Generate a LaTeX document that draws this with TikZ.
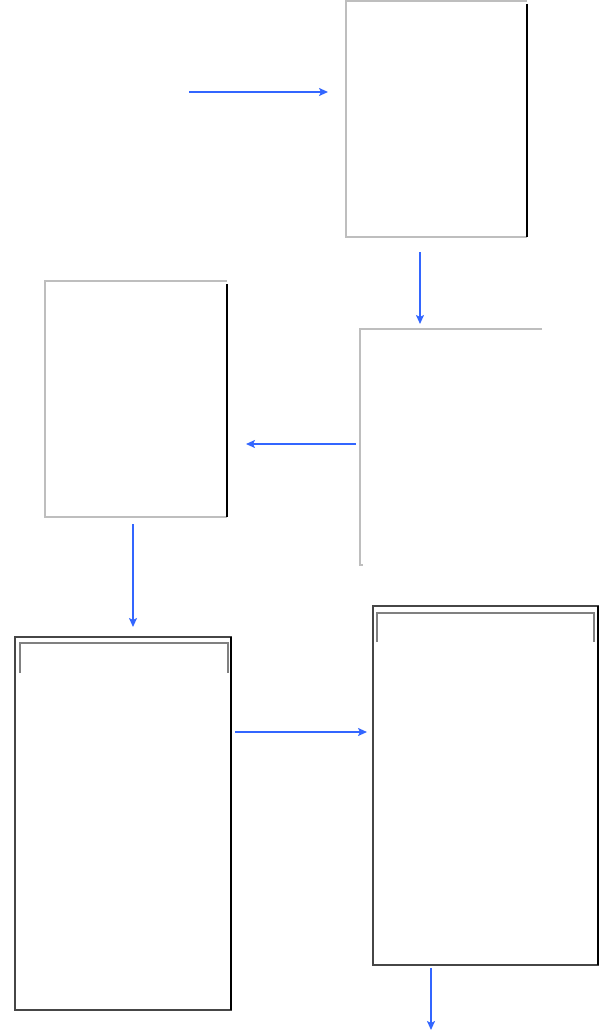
\documentclass[tikz,border=0pt]{standalone}
\usepackage{xcolor}
\usepackage{tikz}
\usetikzlibrary{arrows.meta}
\definecolor{flowblue}{RGB}{51,102,255}
\definecolor{edgegray}{RGB}{190,190,190}
\definecolor{framegray}{RGB}{70,70,70}

\begin{document}
\begin{tikzpicture}[x=1pt,y=-1pt,
  shot/.style={rectangle, minimum width=#1, inner sep=0pt, outer sep=0pt},
  light/.style={draw=edgegray, line width=1.3pt},
  dark/.style={draw=framegray, line width=1.3pt},
  rim/.style={draw=black, line width=1.6pt},
  bar/.style={draw=gray, line width=1.2pt},
  flow/.style={draw=flowblue, line width=2pt, -{Stealth[length=9pt,width=8pt,inset=2pt]}}]
\useasboundingbox (0,0) rectangle (615,1035);
\node[shot=181pt, minimum height=236pt] (A) at (436.5,119) {};
\node[shot=182pt, minimum height=236pt] (B) at (451,447) {};
\node[shot=182pt, minimum height=236pt] (C) at (136,399) {};
\node[shot=216pt, minimum height=373pt] (D) at (123,823.5) {};
\node[shot=225pt, minimum height=359pt] (E) at (485.5,785.5) {};
\coordinate (src) at (189,92);
\coordinate (out) at (431,1030);
% window borders
\draw[light] (A.south east) -- (A.south west) -- (A.north west) -- (A.north east);
\draw[rim] ([shift={(0,3)}]A.north east) -- (A.south east);
\draw[light] (B.north east) -- (B.north west) -- (B.south west) -- ++(3,0);
\draw[light] (C.south east) -- (C.south west) -- (C.north west) -- (C.north east);
\draw[rim] ([shift={(0,3)}]C.north east) -- (C.south east);
\draw[dark] (D.north west) rectangle (D.south east);
\draw[rim] (D.north east) -- (D.south east);
\draw[dark] (E.north west) rectangle (E.south east);
\draw[rim] (E.north east) -- (E.south east);
% title bars
\draw[bar] ([shift={(5,36)}]D.north west) |- ([shift={(-3,6)}]D.north east) -- ([shift={(-3,36)}]D.north east);
\draw[bar] ([shift={(4,36)}]E.north west) |- ([shift={(-4,7)}]E.north east) -- ([shift={(-4,36)}]E.north east);
% flow
\draw[flow] (src) -- ([xshift=-18pt]src -| A.west);
\draw[flow] ([shift={(-16.5,15)}]A.south) -- ([shift={(-31,-5)}]B.north);
\draw[flow] ([shift={(-4,-3)}]B.west) -- ([shift={(19,-3)}]B.west -| C.east);
\draw[flow] ([shift={(-3,7)}]C.south) -- ([shift={(-3,-10)}]C.south |- D.north);
\draw[flow] ([shift={(4,-91.5)}]D.east) -- ([shift={(-6,-91.5)}]D.east -| E.west);
\draw[flow] ([shift={(-54.5,3)}]E.south) -- (out);
\end{tikzpicture}
\end{document}
